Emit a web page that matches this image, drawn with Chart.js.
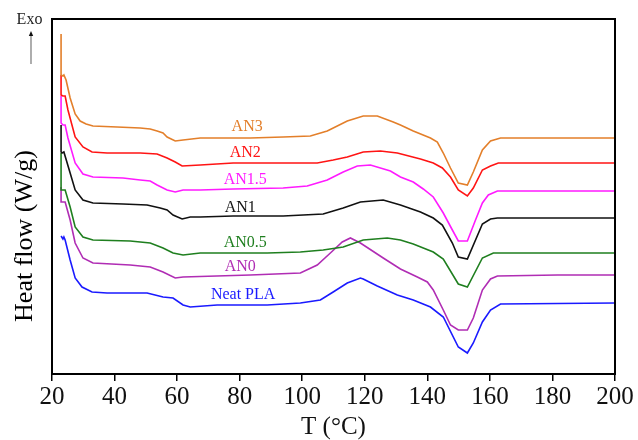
<!DOCTYPE html>
<html>
<head>
<meta charset="utf-8">
<script src="https://cdn.jsdelivr.net/npm/chart.js@4.4.1/dist/chart.umd.min.js"></script>
<style>
html,body{margin:0;padding:0;background:#fff;}
#wrap{width:638px;height:440px;position:relative;}
</style>
</head>
<body>
<div id="wrap"><canvas id="c" width="638" height="440"></canvas></div>
<script>
// Temperature (°C) and heat flow (arbitrary, stacked offsets)
const tAN3 = [22.9,22.9,23.5,23.8,24.5,25.8,27.4,29.0,30.9,33.1,40.8,48.2,51.4,53.6,55.5,56.8,59.4,61.9,67.4,72.8,83.4,93.9,102.6,108.0,114.4,119.5,124.0,129.1,131.4,135.5,141.0,143.2,145.1,147.4,149.9,152.8,154.7,157.6,160.2,163.4,200];
const hAN3 = [340,299,298,299,294,276,260,253,250,248,247,246,245,243,241,237,233,234,236,236,236,237,238,243,253,258,258,252,249,243,236,232,221,206,191,189,202,224,233,236,236];

const tAN2 = [22.9,22.9,23.5,24.2,25.1,27.4,29.9,32.8,37.6,48.2,53.6,56.8,59.4,61.6,67.4,77.9,88.8,99.4,104.8,109.9,114.4,119.5,125.0,130.4,137.8,141.9,144.8,147.4,149.9,152.8,154.7,157.6,160.2,162.7,200];
const hAN2 = [299,279,278,278,264,237,227,222,221,221,220,216,212,208,209,211,211,211,211,214,217,222,223,221,215,211,206,197,184,178,186,204,208,211,211];

const tAN15 = [22.9,22.9,23.5,24.2,25.1,27.4,29.9,33.1,42.7,48.2,51.4,53.6,56.8,59.4,61.9,67.4,77.9,93.9,101.6,108.0,113.1,117.6,121.8,128.2,131.4,135.5,138.7,141.9,145.1,148.0,149.9,152.8,155.4,157.6,159.5,162.4,200];
const hAN15 = [278,251,249,249,236,211,200,197,196,194,193,189,184,182,184,184,185,186,188,194,202,208,209,203,197,192,185,177,161,144,133,133,154,171,179,183,183];

const tAN1 = [22.9,22.9,23.2,23.8,25.8,27.4,29.9,33.1,42.7,50.4,54.6,56.8,58.7,61.6,64.2,67.4,77.9,93.9,106.7,113.1,118.6,125.9,131.4,137.8,141.9,144.8,148.0,149.9,152.8,157.6,160.2,162.4,200];
const hAN1 = [249,222,221,222,201,184,174,171,170,169,166,164,159,155,157,157,158,158,160,166,172,174,169,162,156,149,131,117,115,150,155,156,156];

const tAN05 = [22.9,22.9,23.5,24.2,25.8,27.4,29.9,33.1,45.0,51.4,55.5,58.7,61.9,67.4,72.8,88.8,99.4,106.7,113.1,119.5,127.2,131.4,135.5,141.9,145.1,149.9,152.8,157.6,161.1,200];
const hAN05 = [221,184,184,184,167,147,137,134,133,131,126,121,119,121,121,121,122,124,127,134,136,134,130,122,115,90,87,116,121,121];

const tAN0 = [22.9,22.9,23.5,24.2,25.8,27.4,29.9,33.1,45.0,51.4,55.5,59.4,61.9,83.4,99.4,104.8,109.0,112.8,115.4,118.6,125.9,131.4,136.8,140.0,141.9,145.1,147.4,149.9,152.8,154.7,157.6,160.2,162.4,181.6,200];
const hAN0 = [187,172,172,172,154,131,116,111,109,107,102,96,97,99,101,109,121,132,136,131,116,105,97,92,84,64,49,44,44,56,84,95,98,99,99];

const tPLA = [22.9,23.5,23.8,24.2,25.8,27.4,29.6,32.8,37.6,50.4,55.5,58.7,61.9,64.2,72.8,88.8,99.4,105.8,109.9,114.4,118.6,119.5,124.0,130.4,135.5,141.0,145.1,149.9,152.8,154.7,157.6,160.2,163.4,200];
const hPLA = [138,135,137,134,114,96,87,82,81,81,77,76,69,67,69,69,71,74,82,91,96,95,88,79,74,67,57,27,21,31,52,64,70,71];

const seriesNames = ['AN3','AN2','AN1.5','AN1','AN0.5','AN0','Neat PLA'];
const seriesColors = ['#E37F2A','#FF1414','#FF1AFF','#111111','#1F7F1F','#B02DB4','#1A1AFF'];
// label anchor positions (T, heat flow)
const labelT = [82.4,81.8,81.8,80.2,81.8,80.2,81.1];
const labelH = [247,221,194,166,131,107,79];

const xTicks = [20,40,60,80,100,120,140,160,180,200];

const tArr = [tAN3,tAN2,tAN15,tAN1,tAN05,tAN0,tPLA];
const hArr = [hAN3,hAN2,hAN15,hAN1,hAN05,hAN0,hPLA];

const datasets = seriesNames.map((n,i)=>({
  label:n,
  data:tArr[i].map((t,j)=>({x:t,y:hArr[i][j]})),
  borderColor:seriesColors[i],
  borderWidth:1.6,
  pointRadius:0,
  tension:0,
  fill:false
}));

const FONT = "'Liberation Serif','Times New Roman',serif";

const decor = {
  id:'decor',
  afterDraw(chart){
    const ctx = chart.ctx, a = chart.chartArea;
    const xs = chart.scales.x, ys = chart.scales.y;
    ctx.save();
    // frame
    ctx.strokeStyle = '#000';
    ctx.lineWidth = 2;
    ctx.strokeRect(a.left, a.top, a.right - a.left, a.bottom - a.top);
    // curve labels
    ctx.font = '16px ' + FONT;
    ctx.textAlign = 'center';
    ctx.textBaseline = 'middle';
    seriesNames.forEach((n,i)=>{
      ctx.fillStyle = seriesColors[i];
      ctx.fillText(n, xs.getPixelForValue(labelT[i]), ys.getPixelForValue(labelH[i]));
    });
    // y title
    ctx.save();
    ctx.translate(25, 236);
    ctx.rotate(-Math.PI/2);
    ctx.fillStyle = '#000';
    ctx.font = '26px ' + FONT;
    ctx.fillText('Heat flow (W/g)', 0, 0);
    ctx.restore();
    // Exo
    ctx.fillStyle = '#222';
    ctx.font = '16px ' + FONT;
    ctx.fillText('Exo', 29.5, 20);
    ctx.strokeStyle = '#777';
    ctx.lineWidth = 1.2;
    ctx.beginPath();
    ctx.moveTo(31, 64);
    ctx.lineTo(31, 35);
    ctx.stroke();
    ctx.fillStyle = '#111';
    ctx.beginPath();
    ctx.moveTo(31, 31);
    ctx.lineTo(28.8, 36);
    ctx.lineTo(33.2, 36);
    ctx.closePath();
    ctx.fill();
    ctx.restore();
  }
};

new Chart(document.getElementById('c'), {
  type:'line',
  data:{datasets},
  options:{
    responsive:false,
    animation:false,
    events:[],
    layout:{padding:{left:52,right:23,top:19,bottom:0}},
    plugins:{legend:{display:false},tooltip:{enabled:false}},
    scales:{
      x:{
        type:'linear',
        min:20,max:200,
        afterBuildTicks(s){ s.ticks = xTicks.map(v=>({value:v})); },
        afterFit(s){ s.height = 66; },
        border:{display:false},
        grid:{display:true,drawOnChartArea:false,drawTicks:true,tickLength:7,color:'#000',lineWidth:1.5},
        ticks:{color:'#111',font:{family:FONT,size:25},padding:1,maxRotation:0,autoSkip:false},
        title:{display:true,text:'T (°C)',color:'#111',font:{family:FONT,size:25,lineHeight:1.0},padding:{top:0,bottom:0}}
      },
      y:{
        type:'linear',
        display:false,
        min:0,max:355
      }
    }
  },
  plugins:[decor]
});
</script>
</body>
</html>
